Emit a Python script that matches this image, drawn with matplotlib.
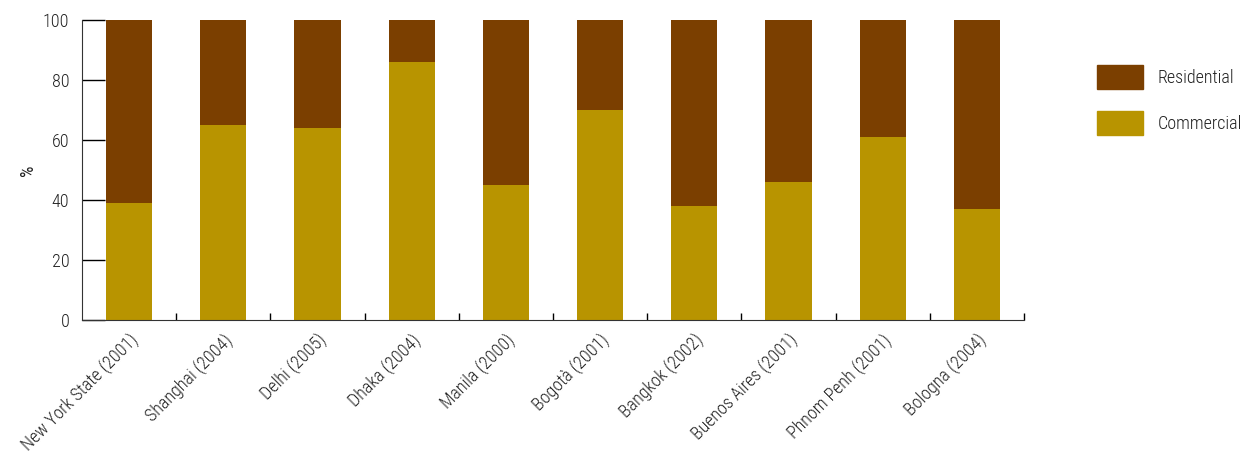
import numpy as np
import matplotlib.pyplot as plt
from matplotlib.patches import Patch

plt.rcParams['font.family'] = ['Roboto Condensed', 'Liberation Sans Narrow', 'DejaVu Sans']
plt.rcParams['font.weight'] = 'light'

cities = ['New York State (2001)', 'Shanghai (2004)', 'Delhi (2005)', 'Dhaka (2004)',
          'Manila (2000)', 'Bogotà (2001)', 'Bangkok (2002)', 'Buenos Aires (2001)',
          'Phnom Penh (2001)', 'Bologna (2004)']
commercial = [39, 65, 64, 86, 45, 70, 38, 46, 61, 37]
residential = [100 - c for c in commercial]

col_res = '#7b3f00'
col_com = '#b89400'

fig = plt.figure(figsize=(12.4, 4.51), dpi=100)
ax = fig.add_axes([0.0661, 0.2905, 0.7597, 0.6652])

x = np.arange(len(cities))
ax.bar(x, commercial, width=0.49, color=col_com)
ax.bar(x, residential, width=0.49, bottom=commercial, color=col_res)

ax.set_xlim(-0.5, len(cities) - 0.5)
ax.set_ylim(0, 100)
ax.set_yticks([0, 20, 40, 60, 80, 100])
ax.tick_params(axis='y', direction='in', length=16.5, width=1, labelsize=13, pad=9,
               labelcolor='#222222')
ax.set_ylabel('%', fontsize=13, color='#222222')

ax.set_xticks(x)
ax.set_xticklabels(cities, rotation=45, ha='right', rotation_mode='anchor', fontsize=13,
                   color='#222222')
ax.tick_params(axis='x', length=0, pad=8)
ax.set_xticks(np.arange(len(cities)) + 0.5, minor=True)
ax.tick_params(axis='x', which='minor', direction='in', length=5, width=1)

for s in ['top', 'right']:
    ax.spines[s].set_visible(False)
ax.spines['left'].set_color('#333333')
ax.spines['bottom'].set_color('#333333')

handles = [Patch(color=col_res, label='Residential'), Patch(color=col_com, label='Commercial')]
fig.legend(handles=handles, loc='upper left', bbox_to_anchor=(0.8714, 0.891), frameon=False,
           fontsize=13, handlelength=2.55, handleheight=1.65, labelspacing=1.2,
           handletextpad=0.8, labelcolor='#222222')

fig.savefig('out.png', dpi=100)
